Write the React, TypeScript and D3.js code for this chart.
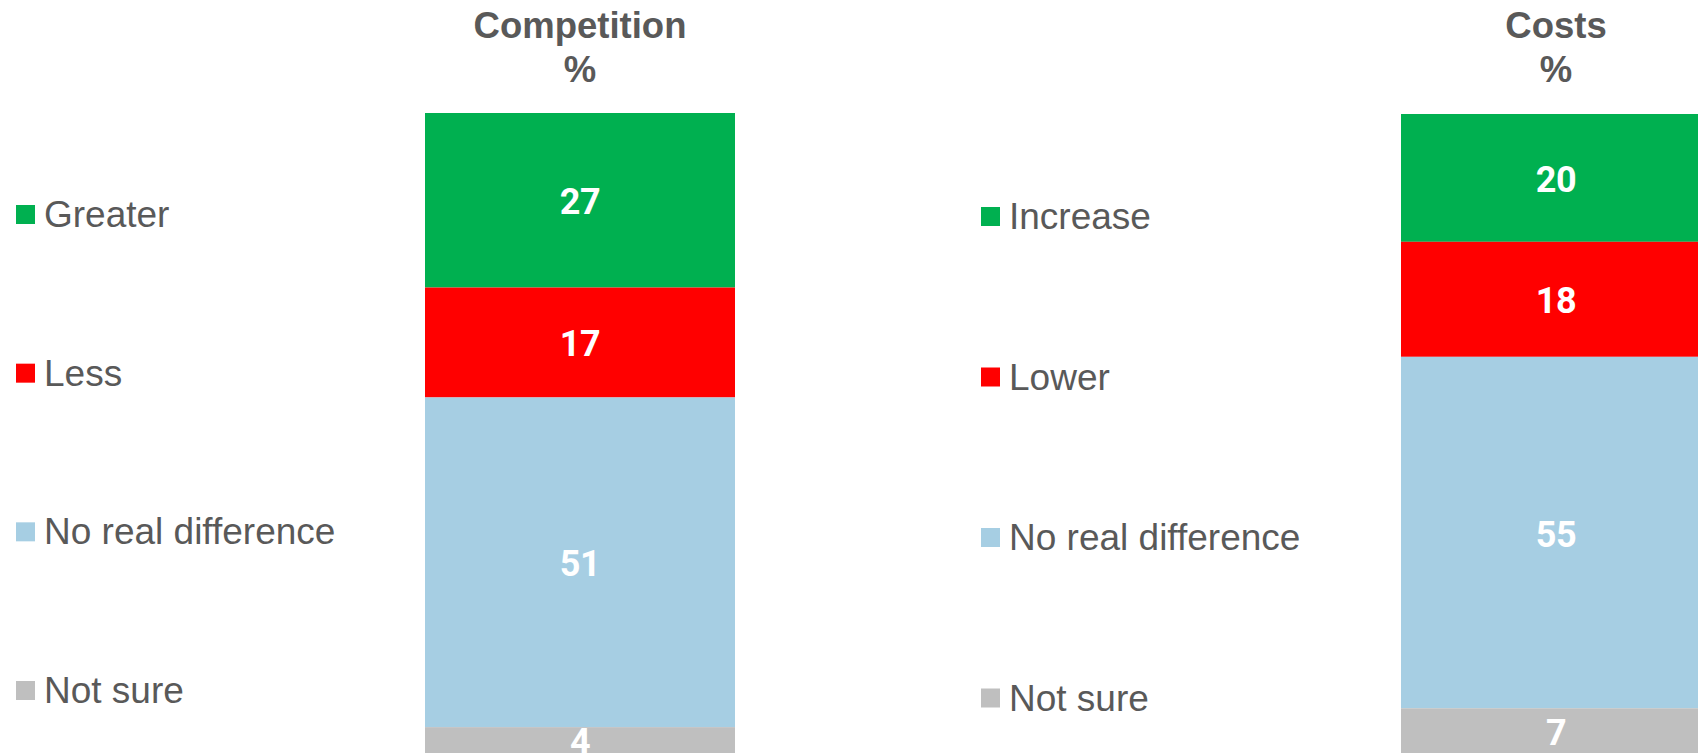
import React from "react";
import * as d3 from "d3";

const competitionCategories = ["Greater", "Less", "No real difference", "Not sure"];
const competitionValues = [27, 17, 51, 4];
const costsCategories = ["Increase", "Lower", "No real difference", "Not sure"];
const costsValues = [20, 18, 55, 7];
const colors = ["#00B050", "#FF0000", "#A6CEE3", "#BFBFBF"];
const titles = ["Competition", "Costs"];

const W = 1698;
const H = 753;

type PanelProps = {
  title: string;
  cats: string[];
  vals: number[];
  legendX: number;
  legendTop: number;
  legendBottom: number;
  barCenter: number;
  barTop: number;
  barBottom: number;
};

function Panel({ title, cats, vals, legendX, legendTop, legendBottom, barCenter, barTop, barBottom }: PanelProps) {
  const total = d3.sum(vals);
  const y = d3.scaleLinear().domain([0, total]).range([barBottom, barTop]);
  const x = d3.scaleBand().domain([title]).range([barCenter - 155, barCenter + 155]).padding(0);
  const cum: number[] = [];
  let acc = total;
  vals.forEach((v) => {
    cum.push(acc);
    acc -= v;
  });
  const ly = d3.scalePoint<string>().domain(cats).range([legendTop, legendBottom]);
  return (
    <g>
      <text
        x={barCenter}
        y={38}
        textAnchor="middle"
        fontFamily="'Liberation Sans', Arial, sans-serif"
        fontWeight="bold"
        fontSize={36.5}
        fill="#595959"
      >
        {title}
      </text>
      <text
        x={barCenter}
        y={81.5}
        textAnchor="middle"
        fontFamily="'Liberation Sans', Arial, sans-serif"
        fontWeight="bold"
        fontSize={36.5}
        fill="#595959"
      >
        %
      </text>
      {vals.map((v, i) => {
        const y0 = y(cum[i]);
        const y1 = y(cum[i] - v);
        return (
          <g key={cats[i]}>
            <rect x={x(title)} y={y0} width={x.bandwidth()} height={y1 - y0} fill={colors[i]} />
            <text
              x={barCenter}
              y={(y0 + y1) / 2 + 14}
              textAnchor="middle"
              fontFamily="Roboto, sans-serif"
              fontWeight="bold"
              fontSize={36}
              fill="#FFFFFF"
              letterSpacing={-0.5}
            >
              {v}
            </text>
          </g>
        );
      })}
      {cats.map((c, i) => {
        const by = ly(c) as number;
        return (
          <g key={"l" + c}>
            <rect x={legendX} y={by - 22} width={19} height={19} fill={colors[i]} />
            <text
              x={legendX + 28}
              y={by}
              fontFamily="'Liberation Sans', Arial, sans-serif"
              fontSize={37}
              fill="#595959"
            >
              {c}
            </text>
          </g>
        );
      })}
    </g>
  );
}

export default function App() {
  return (
    <svg
      width={W}
      height={H}
      style={{ position: "absolute", left: 0, top: 0, overflow: "hidden", background: "#fff" }}
    >
      <rect x={0} y={0} width={W} height={H} fill="#fff" />
      <Panel
        title={titles[0]}
        cats={competitionCategories}
        vals={competitionValues}
        legendX={16}
        legendTop={227}
        legendBottom={703}
        barCenter={580}
        barTop={113}
        barBottom={753}
      />
      <Panel
        title={titles[1]}
        cats={costsCategories}
        vals={costsValues}
        legendX={981}
        legendTop={229}
        legendBottom={710.5}
        barCenter={1556}
        barTop={114}
        barBottom={753}
      />
    </svg>
  );
}
